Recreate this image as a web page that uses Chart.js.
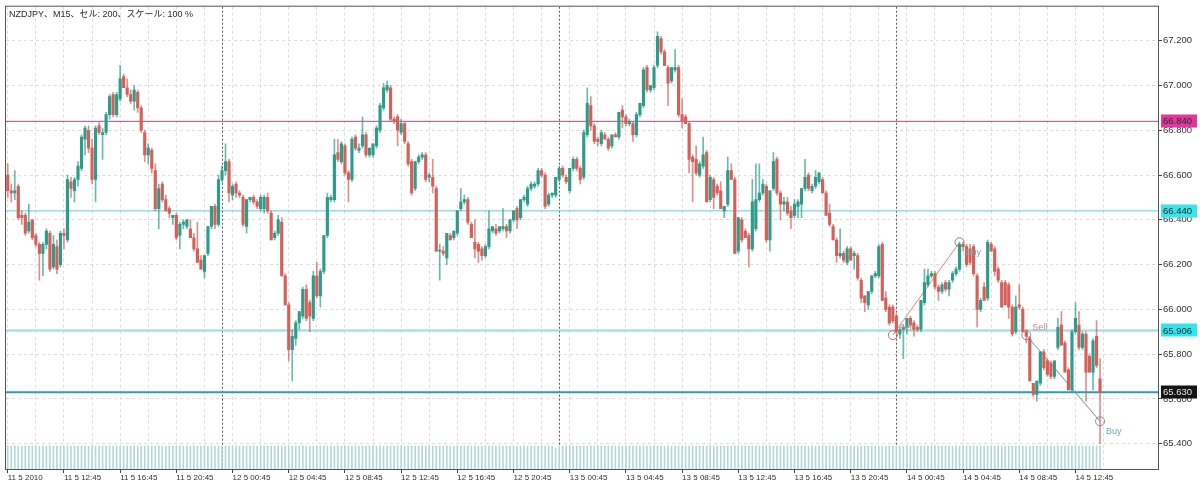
<!DOCTYPE html>
<html>
<head>
<meta charset="utf-8">
<script src="https://cdn.jsdelivr.net/npm/chart.js@4.4.1/dist/chart.umd.min.js"></script>
<style>
  html, body { margin: 0; padding: 0; background: #fff; overflow: hidden; }
  canvas { display: block; }
</style>
</head>
<body>
<canvas id="chart" width="1200" height="487"></canvas>
<script>
// NZDJPY M15, 11 May 2010 08:45 .. 14 May 2010 14:30 (one row = 16 bars = 4 hours)
const opens = [
  66.60,66.53,66.52,66.55,66.42,66.42,66.35,66.40,66.33,66.29,66.25,66.29,66.34,66.19,66.28,66.20,
  66.34,66.31,66.57,66.53,66.58,66.63,66.76,66.80,66.72,66.58,66.82,66.78,66.79,66.87,66.96,66.87,
  66.94,67.04,66.99,66.96,66.93,66.97,66.90,66.79,66.69,66.71,66.62,66.45,66.56,66.49,66.45,66.41,
  66.42,66.33,66.38,66.37,66.36,66.32,66.27,66.22,66.17,66.25,66.37,66.46,66.38,66.58,66.62,66.66,
  66.51,66.56,66.52,66.50,66.37,66.49,66.50,66.48,66.45,66.45,66.50,66.43,66.32,66.34,66.39,66.15,
  66.02,65.82,65.87,65.94,65.97,66.09,66.03,65.96,66.15,66.06,66.17,66.33,66.49,66.49,66.70,66.66,
  66.73,66.61,66.58,66.77,66.71,66.73,66.78,66.69,66.69,66.73,66.80,66.90,66.98,66.99,66.85,66.86,
  66.79,66.83,66.74,66.66,66.54,66.66,66.68,66.69,66.59,66.59,66.54,66.26,66.26,66.23,66.33,66.32,
  66.34,66.45,66.48,66.49,66.38,66.30,66.29,66.27,66.24,66.28,66.35,66.36,66.35,66.36,66.37,66.35,
  66.40,66.45,66.41,66.49,66.47,66.54,66.55,66.56,66.62,66.60,66.47,66.51,66.51,66.58,66.63,66.59,
  66.53,66.63,66.67,66.63,66.59,66.78,66.91,66.82,66.76,66.74,66.78,66.76,66.73,66.78,66.77,66.89,
  66.86,66.83,66.83,66.78,66.87,66.91,67.08,66.98,66.99,67.09,67.21,67.15,67.08,67.02,67.07,67.08,
  66.87,66.86,66.83,66.68,66.67,66.60,66.64,66.70,66.49,66.58,66.55,66.53,66.44,66.47,66.62,66.58,
  66.26,66.40,66.35,66.33,66.27,66.36,66.49,66.52,66.55,66.31,66.54,66.67,66.52,66.47,66.48,66.44,
  66.42,66.46,66.47,66.54,66.60,66.53,66.55,66.57,66.58,66.52,66.43,66.37,66.31,66.24,66.25,66.21,
  66.27,66.24,66.24,66.13,66.06,66.02,66.08,66.15,66.15,66.29,66.05,66.01,66.01,65.97,65.89,65.91,
  65.92,65.96,65.94,65.92,65.91,66.03,66.11,66.15,66.16,66.10,66.08,66.12,66.09,66.13,66.16,66.18,
  66.29,66.28,66.27,66.28,66.15,66.00,66.10,66.05,66.29,66.27,66.18,66.12,66.12,66.11,66.01,65.90,
  66.02,66.00,65.90,65.87,65.67,65.62,65.67,65.81,65.77,65.76,65.70,65.83,65.93,65.85,65.73,65.64,
  65.90,65.93,65.83,65.89,65.79,65.72,65.88,65.69
];
const highs = [
  66.65,66.56,66.62,66.56,66.44,66.43,66.47,66.40,66.34,66.30,66.30,66.36,66.35,66.33,66.31,66.35,
  66.36,66.60,66.59,66.59,66.66,66.78,66.82,66.82,66.76,66.82,66.84,66.81,66.88,66.96,66.97,66.97,
  67.09,67.05,67.03,66.98,67.00,66.98,66.91,66.80,66.74,66.72,66.65,66.56,66.57,66.51,66.46,66.42,
  66.43,66.39,66.40,66.40,66.40,66.34,66.39,66.24,66.24,66.37,66.46,66.47,66.60,66.64,66.74,66.67,
  66.56,66.57,66.53,66.51,66.49,66.50,66.51,66.49,66.51,66.51,66.52,66.44,66.35,66.42,66.41,66.16,
  66.03,65.91,65.95,65.99,66.10,66.11,66.04,66.17,66.21,66.18,66.33,66.52,66.51,66.76,66.76,66.75,
  66.74,66.62,66.77,66.78,66.74,66.86,66.79,66.72,66.74,66.82,66.92,67.01,67.02,67.00,66.86,66.87,
  66.85,66.84,66.75,66.67,66.66,66.69,66.70,66.70,66.61,66.67,66.55,66.29,66.28,66.34,66.34,66.35,
  66.44,66.54,66.51,66.50,66.39,66.40,66.30,66.28,66.29,66.44,66.37,66.38,66.37,66.45,66.38,66.40,
  66.44,66.46,66.49,66.51,66.55,66.57,66.57,66.63,66.63,66.61,66.52,66.52,66.59,66.64,66.64,66.60,
  66.63,66.68,66.68,66.64,66.80,66.99,66.95,66.83,66.77,66.80,66.79,66.77,66.78,66.79,66.88,66.91,
  66.87,66.85,66.84,66.88,66.92,67.08,67.09,67.00,67.09,67.24,67.22,67.16,67.09,67.08,67.16,67.09,
  66.94,66.87,66.84,66.69,66.73,66.66,66.77,66.71,66.60,66.59,66.56,66.57,66.46,66.68,66.65,66.59,
  66.41,66.41,66.36,66.34,66.58,66.65,66.65,66.58,66.56,66.53,66.70,66.68,66.53,66.50,66.50,66.46,
  66.49,66.49,66.54,66.67,66.61,66.56,66.62,66.61,66.59,66.53,66.47,66.38,66.32,66.36,66.26,66.28,
  66.28,66.26,66.25,66.14,66.06,66.08,66.15,66.17,66.29,66.30,66.08,66.02,66.02,65.98,65.92,65.93,
  65.96,65.97,65.95,65.93,66.04,66.18,66.18,66.17,66.17,66.11,66.12,66.13,66.13,66.17,66.19,66.30,
  66.30,66.29,66.29,66.29,66.16,66.05,66.12,66.31,66.30,66.28,66.19,66.13,66.13,66.12,66.02,66.06,
  66.11,66.01,65.91,65.88,65.67,65.68,65.81,65.82,65.78,65.77,65.77,65.96,65.99,65.86,65.74,65.91,
  66.03,65.99,65.90,65.90,65.80,65.87,65.95,65.78
];
const lows = [
  66.50,66.48,66.49,66.40,66.38,66.33,66.34,66.31,66.28,66.13,66.15,66.27,66.17,66.18,66.16,66.19,
  66.27,66.30,66.50,66.48,66.55,66.62,66.69,66.70,66.56,66.48,66.78,66.67,66.78,66.85,66.86,66.86,
  66.93,66.99,66.95,66.92,66.89,66.88,66.79,66.66,66.65,66.61,66.44,66.36,66.48,66.44,66.41,66.38,
  66.31,66.27,66.36,66.36,66.32,66.26,66.21,66.18,66.14,66.24,66.36,66.36,66.37,66.57,66.60,66.48,
  66.49,66.50,66.50,66.37,66.34,66.48,66.47,66.45,66.44,66.43,66.43,66.31,66.31,66.33,66.15,66.02,
  65.77,65.68,65.84,65.91,65.96,65.95,65.90,65.95,66.05,66.01,66.16,66.32,66.48,66.48,66.66,66.65,
  66.60,66.48,66.57,66.71,66.70,66.72,66.68,66.68,66.68,66.72,66.79,66.89,66.97,66.84,66.83,66.73,
  66.78,66.74,66.64,66.51,66.53,66.65,66.67,66.57,66.57,66.52,66.26,66.13,66.24,66.20,66.31,66.31,
  66.33,66.44,66.47,66.38,66.32,66.23,66.21,66.22,66.23,66.27,66.34,66.33,66.34,66.35,66.32,66.34,
  66.39,66.36,66.40,66.48,66.46,66.53,66.54,66.55,66.59,66.45,66.46,66.50,66.50,66.57,66.59,66.56,
  66.52,66.62,66.62,66.56,66.58,66.77,66.80,66.74,66.73,66.73,66.76,66.71,66.72,66.77,66.76,66.81,
  66.82,66.82,66.75,66.77,66.86,66.90,66.97,66.97,66.98,67.08,67.14,67.09,66.91,67.01,67.06,66.86,
  66.81,66.83,66.61,66.48,66.60,66.59,66.63,66.48,66.48,66.45,66.51,66.45,66.41,66.46,66.58,66.25,
  66.25,66.30,66.32,66.19,66.26,66.35,66.48,66.51,66.30,66.26,66.53,66.51,66.40,66.44,66.42,66.36,
  66.41,66.41,66.41,66.53,66.53,66.52,66.54,66.56,66.52,66.42,66.37,66.31,66.21,66.23,66.21,66.20,
  66.22,66.18,66.13,66.03,65.99,66.00,66.07,66.14,66.14,66.04,65.99,65.93,65.94,65.89,65.87,65.78,
  65.89,65.92,65.88,65.90,65.90,66.02,66.10,66.14,66.09,66.04,66.07,66.08,66.06,66.12,66.15,66.17,
  66.26,66.19,66.20,66.15,65.92,65.99,66.04,66.04,66.26,66.15,66.12,66.01,66.02,65.96,65.88,65.89,
  66.00,65.90,65.85,65.68,65.61,65.59,65.66,65.73,65.70,65.69,65.69,65.82,65.84,65.72,65.64,65.63,
  65.89,65.82,65.82,65.59,65.72,65.64,65.74,65.40
];
const closes = [
  66.53,66.52,66.53,66.41,66.41,66.34,66.39,66.32,66.29,66.25,66.29,66.35,66.18,66.29,66.18,66.34,
  66.33,66.58,66.54,66.58,66.64,66.77,66.81,66.72,66.58,66.81,66.79,66.79,66.87,66.95,66.87,66.96,
  67.03,66.99,66.96,66.93,66.98,66.90,66.80,66.69,66.72,66.63,66.45,66.54,66.49,66.44,66.43,66.42,
  66.32,66.38,66.39,66.40,66.32,66.27,66.21,66.18,66.24,66.37,66.46,66.38,66.58,66.62,66.66,66.52,
  66.55,66.52,66.51,66.38,66.49,66.50,66.48,66.46,66.50,66.50,66.44,66.31,66.34,66.40,66.15,66.02,
  65.82,65.88,65.94,65.99,66.09,65.96,65.97,66.15,66.06,66.17,66.33,66.50,66.50,66.69,66.67,66.74,
  66.61,66.58,66.76,66.72,66.72,66.78,66.69,66.72,66.74,66.81,66.91,66.99,67.00,66.85,66.84,66.80,
  66.83,66.75,66.65,66.52,66.66,66.68,66.69,66.58,66.60,66.55,66.26,66.26,66.25,66.34,66.31,66.35,
  66.44,66.48,66.49,66.39,66.32,66.27,66.26,66.24,66.28,66.36,66.37,66.34,66.37,66.37,66.35,66.40,
  66.44,66.40,66.49,66.50,66.54,66.56,66.56,66.62,66.60,66.46,66.51,66.52,66.59,66.63,66.60,66.57,
  66.63,66.67,66.63,66.58,66.79,66.92,66.82,66.75,66.75,66.79,66.76,66.72,66.78,66.77,66.88,66.86,
  66.83,66.84,66.78,66.87,66.92,67.07,66.98,67.00,67.08,67.22,67.15,67.09,67.01,67.08,67.08,66.87,
  66.84,66.83,66.67,66.66,66.61,66.65,66.69,66.48,66.59,66.50,66.52,66.45,66.46,66.62,66.58,66.25,
  66.41,66.31,66.32,66.27,66.48,66.49,66.52,66.56,66.31,66.53,66.66,66.52,66.47,66.48,66.43,66.41,
  66.47,66.48,66.54,66.59,66.54,66.55,66.59,66.61,66.52,66.42,66.38,66.31,66.24,66.25,66.22,66.27,
  66.22,66.25,66.14,66.05,66.03,66.08,66.15,66.16,66.28,66.04,66.00,65.94,65.95,65.90,65.91,65.92,
  65.96,65.93,65.91,65.91,66.04,66.12,66.15,66.16,66.10,66.08,66.11,66.09,66.12,66.16,66.18,66.29,
  66.28,66.20,66.21,66.16,66.00,66.04,66.04,66.30,66.26,66.17,66.13,66.01,66.02,66.01,65.89,66.01,
  66.01,65.90,65.88,65.68,65.62,65.68,65.81,65.74,65.71,65.70,65.77,65.92,65.84,65.72,65.64,65.90,
  65.96,65.83,65.89,65.72,65.72,65.86,65.75,65.63
];
// tick volume bars along the bottom (all drawn at the same height)
const volumes = [
  100,100,100,100,100,100,100,100,100,100,100,100,100,100,100,100,
  100,100,100,100,100,100,100,100,100,100,100,100,100,100,100,100,
  100,100,100,100,100,100,100,100,100,100,100,100,100,100,100,100,
  100,100,100,100,100,100,100,100,100,100,100,100,100,100,100,100,
  100,100,100,100,100,100,100,100,100,100,100,100,100,100,100,100,
  100,100,100,100,100,100,100,100,100,100,100,100,100,100,100,100,
  100,100,100,100,100,100,100,100,100,100,100,100,100,100,100,100,
  100,100,100,100,100,100,100,100,100,100,100,100,100,100,100,100,
  100,100,100,100,100,100,100,100,100,100,100,100,100,100,100,100,
  100,100,100,100,100,100,100,100,100,100,100,100, 92,100,100,100,
  100,100,100,100,100,100,100,100,100,100,100,100,100,100,100,100,
  100,100,100,100,100,100,100,100,100,100,100,100,100,100,100,100,
  100,100,100,100,100,100,100,100,100,100,100,100,100,100,100,100,
  100,100,100,100,100,100,100,100,100,100,100,100,100,100,100,100,
  100,100,100,100,100,100,100,100,100,100,100,100,100,100,100,100,
  100,100,100,100,100,100,100,100,100,100,100,100,100,100,100,100,
  100,100,100,100,100,100,100,100,100,100,100,100,100,100,100,100,
  100,100,100,100,100,100,100,100,100,100,100,100,100,100,100,100,
  100,100,100,100,100,100,100,100,100,100,100,100,100,100,100,100,
  100,100,100,100,100,100,100,100
];

const xTickLabels = ['11 5 2010', '11 5 12:45', '11 5 16:45', '11 5 20:45', '12 5 00:45', '12 5 04:45',
  '12 5 08:45', '12 5 12:45', '12 5 16:45', '12 5 20:45', '13 5 00:45', '13 5 04:45', '13 5 08:45',
  '13 5 12:45', '13 5 16:45', '13 5 20:45', '14 5 00:45', '14 5 04:45', '14 5 08:45', '14 5 12:45'];
const yTicks = [65.4, 65.6, 65.8, 66.0, 66.2, 66.4, 66.6, 66.8, 67.0, 67.2];
const daySeparators = [61, 157, 253];          // bar index of 00:00 each day
const levelPrices = [66.840, 66.440, 65.906, 65.630];
const tradeBars = [[252, 271], [290, 311]];
const tradePrices = [[65.885, 66.300], [65.885, 65.500]];
const tradeLabels = [['Sell', 'Buy'], ['Sell', 'Buy']];
const headerText = 'NZDJPY、M15、セル: 200、スケール: 100 %';

const BULL = '#2e9c8a';
const BEAR = '#d5605a';
const FONT = '"Liberation Sans", Arial, "Noto Sans CJK JP", sans-serif';
const totalSlots = 328;   // 312 bars + empty shift on the right

Chart.defaults.font.family = FONT;

const candleColors = closes.map((c, i) => c >= opens[i] ? BULL : BEAR);
const wickColors = closes.map((c, i) => c >= opens[i] ? 'rgba(46,156,138,0.7)' : 'rgba(213,96,90,0.7)');

const levelStyles = [
  { line: '#b7449a', width: 1, box: '#e2379a', text: '#2a2a2a' },
  { line: '#52d2de', width: 1, box: '#3ce3ec', text: '#2a2a2a' },
  { line: '#8fdde6', width: 2, box: '#2fe5ee', text: '#2a2a2a' },
  { line: '#229fc6', width: 2, box: '#141414', text: '#e6e6e6' }
];
const tradeStyles = [
  { line: '#d98a84', pts: ['#cc6b66', '#808080'], text: ['#c08a86', '#7aa7b0'] },
  { line: '#6d8f9b', pts: ['#b27f7c', '#6d929c'], text: ['#c08a86', '#6fa7b2'] }
];

const decor = {
  id: 'decor',
  beforeDatasetsDraw(chart) {
    const { ctx, chartArea: a, scales: { x, y } } = chart;
    ctx.save();
    ctx.beginPath();
    ctx.rect(a.left, a.top, a.right - a.left, a.bottom - a.top);
    ctx.clip();
    // day separators
    ctx.strokeStyle = '#5a5a5a';
    ctx.lineWidth = 1;
    ctx.setLineDash([2, 2]);
    daySeparators.forEach(i => {
      const px = Math.round(x.getPixelForValue(i)) + 0.5;
      ctx.beginPath();
      ctx.moveTo(px, a.top);
      ctx.lineTo(px, a.bottom);
      ctx.stroke();
    });
    ctx.setLineDash([]);
    // horizontal levels
    levelPrices.forEach((p, k) => {
      const st = levelStyles[k];
      const py = y.getPixelForValue(p);
      ctx.strokeStyle = st.line;
      ctx.lineWidth = st.width;
      ctx.beginPath();
      ctx.moveTo(a.left, py);
      ctx.lineTo(a.right, py);
      ctx.stroke();
    });
    ctx.restore();
  },
  afterDatasetsDraw(chart) {
    const { ctx, chartArea: a, scales: { x, y } } = chart;
    ctx.save();
    // frame
    ctx.strokeStyle = '#555';
    ctx.lineWidth = 1;
    ctx.strokeRect(a.left - 0.5, a.top - 0.5, a.right - a.left + 1, a.bottom - a.top + 1);
    // level price boxes on the axis
    ctx.font = '9.5px ' + FONT;
    ctx.textBaseline = 'middle';
    ctx.textAlign = 'left';
    levelPrices.forEach((p, k) => {
      const st = levelStyles[k];
      const py = y.getPixelForValue(p);
      ctx.fillStyle = st.box;
      ctx.fillRect(a.right + 3, Math.round(py) - 6.5, 36, 13);
      ctx.fillStyle = st.text;
      ctx.fillText(p.toFixed(3), a.right + 5, py + 0.5);
    });
    // trade labels
    ctx.font = '9px ' + FONT;
    tradeBars.forEach((bars, t) => {
      bars.forEach((b, j) => {
        const px = x.getPixelForValue(b);
        const py = y.getPixelForValue(tradePrices[t][j]);
        ctx.fillStyle = tradeStyles[t].text[j];
        const dy = tradeLabels[t][j] === 'Sell' ? -8 : 10;
        ctx.fillText(tradeLabels[t][j], px + 6, py + dy);
      });
    });
    // header
    ctx.fillStyle = '#2a2a2a';
    ctx.font = '9px ' + FONT;
    ctx.fillText(headerText, a.left + 3, a.top + 8);
    ctx.restore();
  }
};

const tradeSets = tradeBars.map((bars, t) => ({
  type: 'line',
  data: bars.map((b, j) => ({ x: b, y: tradePrices[t][j] })),
  xAxisID: 'x',
  yAxisID: 'y',
  borderColor: tradeStyles[t].line,
  borderWidth: 1,
  pointStyle: 'circle',
  pointRadius: 4.5,
  pointHoverRadius: 4.5,
  pointBorderWidth: 1,
  pointBorderColor: tradeStyles[t].pts,
  pointBackgroundColor: 'rgba(255,255,255,0)',
  fill: false
}));

new Chart(document.getElementById('chart'), {
  type: 'bar',
  data: {
    datasets: [
      {
        data: volumes.map((v, i) => ({ x: i, y: v })),
        yAxisID: 'yv',
        backgroundColor: '#b3d8d8',
        barThickness: 1,
        grouped: false
      },
      {
        data: highs.map((h, i) => ({ x: i, y: [lows[i], h] })),
        yAxisID: 'y',
        backgroundColor: wickColors,
        barThickness: 1,
        grouped: false
      },
      {
        data: opens.map((o, i) => ({ x: i, y: [o, closes[i]] })),
        yAxisID: 'y',
        backgroundColor: candleColors,
        barThickness: 2.5,
        minBarLength: 1,
        grouped: false
      },
      ...tradeSets
    ]
  },
  options: {
    responsive: false,
    animation: false,
    events: [],
    layout: { padding: { left: 6, top: 6, right: 0, bottom: 0 } },
    plugins: { legend: { display: false }, tooltip: { enabled: false } },
    scales: {
      x: {
        type: 'linear',
        min: -0.5,
        max: totalSlots - 0.5,
        bounds: 'data',
        offset: false,
        afterBuildTicks: s => {
          const t = [];
          for (let v = 0; v < totalSlots - 4; v += 8) t.push({ value: v });
          s.ticks = t;
        },
        afterFit: s => { s.height = 18; },
        ticks: {
          autoSkip: false,
          maxRotation: 0,
          align: 'start',
          padding: 0,
          color: '#333',
          font: { size: 8 },
          callback: v => (v % 16 === 0 ? xTickLabels[v / 16] : '')
        },
        grid: {
          offset: false,
          color: '#dcdcdc',
          lineWidth: 1,
          tickLength: 4,
          tickColor: c => (c.tick && c.tick.value % 16 === 0 ? '#444' : 'rgba(0,0,0,0)')
        },
        border: { display: false, dash: [3, 3] }
      },
      y: {
        type: 'linear',
        position: 'right',
        min: 65.287,
        max: 67.352,
        bounds: 'data',
        afterBuildTicks: s => { s.ticks = yTicks.map(v => ({ value: v })); },
        afterFit: s => { s.width = 42; },
        ticks: {
          padding: 1,
          color: '#333',
          font: { size: 9.5 },
          callback: v => v.toFixed(3)
        },
        grid: { color: '#dcdcdc', tickColor: '#444', tickLength: 4 },
        border: { display: false, dash: [3, 3] }
      },
      yv: {
        type: 'linear',
        display: false,
        min: 0,
        max: 2013
      }
    }
  },
  plugins: [decor]
});
</script>
</body>
</html>
